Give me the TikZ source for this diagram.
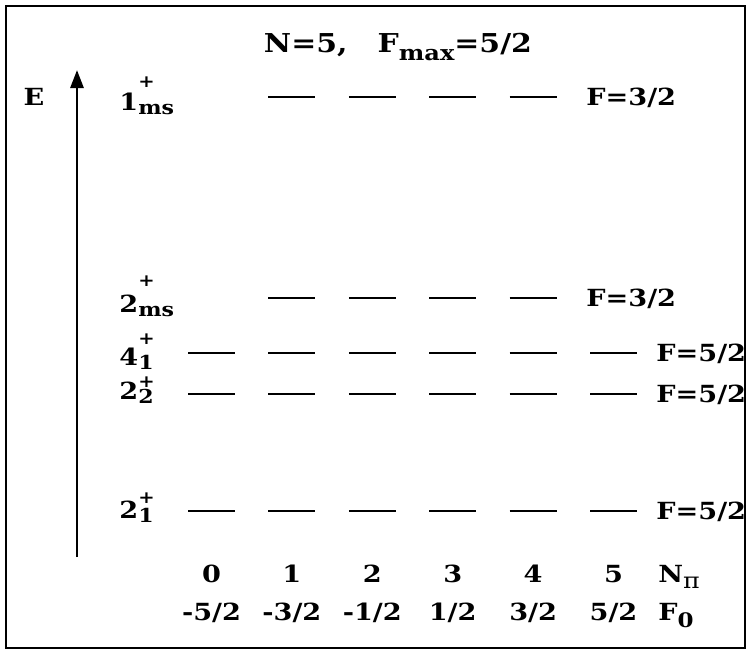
\documentclass[tikz,border=0pt]{standalone}
\usepackage{fontspec}
\setmainfont[FakeStretch=1.15]{DejaVu Serif}
\usetikzlibrary{arrows.meta, positioning}

% state name with a "+" above the subscript
\newcommand{\lvlname}[3][11pt]{#2\rlap{\raisebox{#1}{\fontsize{8.5}{8.5}\selectfont +}}\raisebox{-2.3pt}{\fontsize{9.6}{9.6}\selectfont #3}}
\newcommand{\lowsub}[1]{\raisebox{-3.5pt}{\fontsize{10}{10}\selectfont #1}}

\begin{document}
\begin{tikzpicture}[
    x=0.5pt, y=-0.5pt,
    every node/.style={font=\bfseries\fontsize{11.8}{14}\selectfont, inner sep=0pt},
    level/.style={line width=1.1pt},
    lbl/.style={anchor=base west},
    col/.style={anchor=base}
]
\useasboundingbox (0,0) rectangle (746,650);
\draw[line width=1pt] (6,6) rectangle (744.5,648);

% title
\node[anchor=base, font=\bfseries\fontsize{13}{15}\selectfont] (title) at (398,52)
    {N=5,\hspace{15pt}F\raisebox{-4pt}{\fontsize{10.5}{10.5}\selectfont max}=5/2};

% energy axis
\node[anchor=base] (E) at (34,105) {E};
\coordinate (ebot) at (77,557);
\coordinate (etop) at (77,70);
\draw[line width=1.4pt, -{Triangle[length=9pt, width=6.5pt]}] (ebot) -- (etop);

% levels
\foreach \y/\first/\last in {97/1/4, 298/1/4, 353/0/5, 394/0/5, 511/0/5}
    \foreach \i in {\first,...,\last}
        \draw[level] ({188+80.4*\i},\y) -- ++(47,0);

% state names
\node[lbl] (s1ms) at (119,110) {\lvlname[11.5pt]{1}{ms}};
\node[lbl] (s2ms) at (119,312) {\lvlname[13pt]{2}{ms}};
\node[lbl] (s41) at (119,365) {\lvlname[10.5pt]{4}{1}};
\node[lbl] (s22) at (119,399) {\lvlname[6pt]{2}{2}};
\node[lbl] (s21) at (119,518) {\lvlname[7.5pt]{2}{1}};

% total F
\node[lbl] (f1ms) at (586,105) {F=3/2};
\node[lbl] (f2ms) at (586,306) {F=3/2};
\node[lbl] (f41) at (656,361) {F=5/2};
\node[lbl] (f22) at (656,402) {F=5/2};
\node[lbl] (f21) at (656,519) {F=5/2};

% bottom rows
\foreach \n in {0,...,5}
    \node[col] (n\n) at ({211.5+80.4*\n},582) {\n};
\foreach \f [count=\i from 0] in {-5/2,-3/2,-1/2,1/2,3/2,5/2}
    \node[col] (f\i) at ({211.5+80.4*\i},620) {\f};
\node[lbl] (npi) at (658,582) {N\raisebox{-3pt}{\mdseries\fontsize{11}{11}\selectfont π}};
\node[lbl] (fzero) at (658,620) {F\lowsub{0}};
\end{tikzpicture}
\end{document}
